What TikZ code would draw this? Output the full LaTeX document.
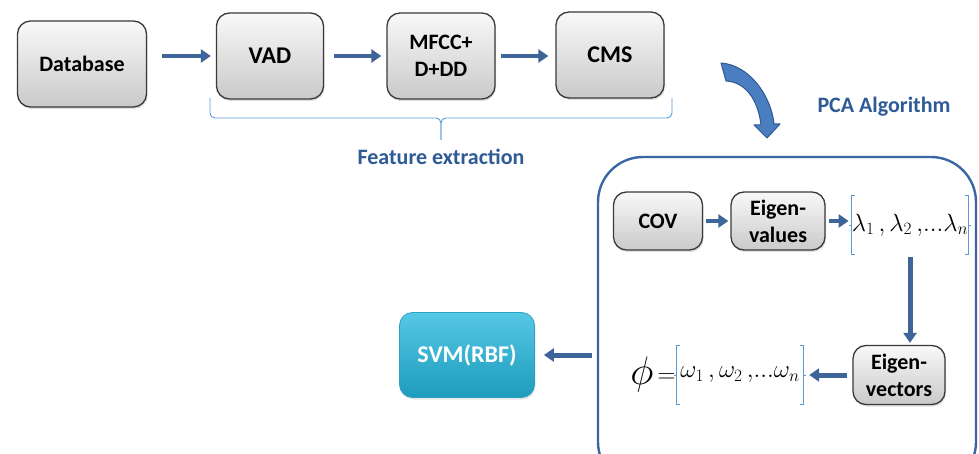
\documentclass[tikz,border=0pt]{standalone}
\usepackage{fontspec}
\setmainfont{Carlito}
\usepackage{tikz}
\usetikzlibrary{arrows.meta,shadows}
\definecolor{arrowblue}{HTML}{3E6599}
\definecolor{titleblue}{HTML}{2E5A95}
\definecolor{bracelight}{HTML}{5B9BD5}
\definecolor{boxline}{HTML}{3A3A3A}
\definecolor{pcaline}{HTML}{3A67A3}
\definecolor{svmtop}{HTML}{55C8E5}
\definecolor{svmbot}{HTML}{1E9BBC}
\definecolor{svmline}{HTML}{2BA3C4}
\definecolor{bentfill}{HTML}{4A7EC0}
\definecolor{bentline}{HTML}{2F5A93}
\tikzset{
  graybox/.style={rounded corners=13pt, draw=boxline, line width=1.3pt,
    top color=gray!5, bottom color=gray!42, align=center,
    font=\fontsize{22}{27}\selectfont\bfseries, inner sep=0pt,
    drop shadow={shadow xshift=1pt, shadow yshift=-2pt, opacity=0.25}},
  svmbox/.style={rounded corners=13pt, draw=svmline, line width=0.8pt,
    top color=svmtop, bottom color=svmbot, text=white,
    font=\fontsize{24}{28}\selectfont\bfseries, inner sep=0pt,
    minimum width=135pt, minimum height=85pt,
    drop shadow={shadow xshift=1pt, shadow yshift=-2pt, opacity=0.2}},
  flow/.style={draw=arrowblue, line width=4pt,
    -{Triangle[length=10pt,width=13pt]}},
  flowthick/.style={flow, line width=5pt},
  brace/.style={draw=bracelight, line width=0.9pt, rounded corners=5pt},
  vbrack/.style={draw=bracelight, line width=0.9pt},
  vect/.style={inner sep=0pt, minimum height=59pt,
    font=\fontsize{23}{28}\selectfont},
  heading/.style={text=titleblue, font=\fontsize{22}{26}\selectfont\bfseries},
}

\begin{document}
\begin{tikzpicture}[x=1pt,y=-1pt]
  \useasboundingbox[fill=white] (0,0) rectangle (979,454);

  % PCA frame (cut by the page at the bottom)
  \node[draw=pcaline, line width=2.4pt, rounded corners=45pt,
        minimum width=378pt, minimum height=330pt] (pca) at (787,322) {};

  % feature extraction chain
  \node[graybox, minimum width=129pt, minimum height=86pt] (db)   at (82,64)  {Database};
  \node[graybox, minimum width=107pt, minimum height=86pt,
        font=\fontsize{24}{28}\selectfont\bfseries] (vad)  at (270,56) {VAD};
  \node[graybox, minimum width=108pt, minimum height=86pt] (mfcc) at (441,56) {MFCC+\\D+DD};
  \node[graybox, minimum width=108pt, minimum height=86pt,
        font=\fontsize{24}{28}\selectfont\bfseries] (cms)  at (610,55) {CMS};

  \draw[flow, shorten <=15pt, shorten >=5pt] (db.east |- vad.west) -- (vad.west);
  \draw[flow, shorten <=10pt, shorten >=5pt] (vad.east) -- (mfcc.west |- vad.east);
  \draw[flow, shorten <=5pt, shorten >=7pt] (mfcc.east) -- (cms.west |- mfcc.east);

  % brace under the chain
  \coordinate (fl) at (210,98);
  \coordinate (fr) at (672,98);
  \coordinate (fm) at (441,140);
  \draw[brace] (fl) -- ++(0,20) -| (fm);
  \draw[brace] (fr) -- ++(0,20) -| (fm);
  \node[heading] (fe) at (441,157) {Feature extraction};

  % bent arrow into the PCA block
  \draw[fill=bentfill, draw=bentline, line width=1pt, line join=round]
    (721,63) .. controls (749,65) and (771,95) .. (774,124)
    -- (780,124) -- (767,138) -- (754,125) -- (761,125)
    .. controls (758,99) and (745,82) .. (726,81) -- cycle;
  \node[heading] (pcat) at (884,107) {PCA Algorithm};

  % inside the PCA block
  \node[graybox, minimum width=89pt, minimum height=58pt] (cov) at (658,221) {COV};
  \node[graybox, minimum width=94pt, minimum height=58pt] (eval) at (778,221) {Eigen-\\values};
  \node[vect, minimum width=115pt] (lam) at (910,225)
    {$\lambda_1\,,\lambda_2\,,\!...\lambda_n$};
  \node[graybox, minimum width=92pt, minimum height=59pt] (evec) at (899,375) {Eigen-\\vectors};
  \node[vect, minimum width=126pt] (om) at (740,375)
    {$\omega_1\,,\omega_2\,,\!...\omega_n$};
  \node[inner sep=1pt, anchor=east, font=\fontsize{24}{28}\selectfont] (phi) at (om.west)
    {\raisebox{-2pt}{\scalebox{1.6}{$\phi$}}$\,=$};

  % square brackets
  \foreach \v in {lam,om}{
    \draw[vbrack] ([xshift=3pt]\v.north west) -- (\v.north west)
      -- (\v.south west) -- ++(3,0);
    \draw[vbrack] (\v.west) -- ++(-3,0);
    \draw[vbrack] ([xshift=-3pt]\v.north east) -- (\v.north east)
      -- (\v.south east) -- ++(-3,0);
    \draw[vbrack] (\v.east) -- ++(3,0);
  }

  \draw[flow, shorten <=3pt, shorten >=2pt] (cov.east) -- (eval.west);
  \draw[flow, shorten <=3pt, shorten >=3pt] (eval.east) -- (lam.west |- eval.east);
  \draw[flowthick, shorten <=2pt, shorten >=2pt] (lam.south) -- (lam.south |- evec.north);
  \draw[flowthick, shorten <=5pt, shorten >=6pt] (evec.west) -- (om.east);

  % classifier
  \node[svmbox] (svm) at (467,355) {SVM(RBF)};
  \draw[flowthick, shorten <=5pt, shorten >=9pt] (pca.west |- svm.east) -- (svm.east);
\end{tikzpicture}
\end{document}
